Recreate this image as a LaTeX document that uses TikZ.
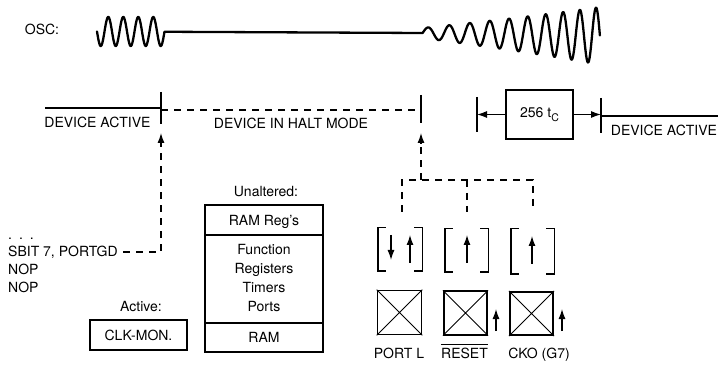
\documentclass[tikz,border=0pt]{standalone}
\usepackage{fontspec}
\setmainfont{TeX Gyre Heros}
\usetikzlibrary{arrows.meta}
\begin{document}
\begin{tikzpicture}[x=1pt,y=-1pt,
  txt/.style={font=\fontsize{14}{16}\selectfont, inner sep=0pt, text height=10pt, text depth=0pt},
  wave/.style={line width=2.3pt, line join=round, line cap=round},
  tline/.style={line width=1.2pt},
  dsh/.style={line width=1.2pt, dash pattern=on 7pt off 6pt},
  arr/.style={-{Latex[length=10pt,width=7pt]}},
  membox/.style={draw, line width=2.4pt, minimum width=118pt, inner sep=0pt},
  brbox/.style={inner sep=0pt, minimum width=44pt, minimum height=43pt},
  xbox/.style={draw, line width=1.6pt, inner sep=0pt, minimum size=44pt},
  brk/.style={line width=1.4pt},
  sarr/.style={line width=1.3pt, -{Latex[length=10pt,width=7pt]}}
]
\useasboundingbox (0,0) rectangle (718,366);

% oscillator
\node[txt] (osc) at (42,30) {OSC:};
\draw[wave] plot[domain=0:4.5, samples=200, smooth] ({97+15*\x},{31.5+14.5*sin(360*\x)})
  -- (422.6,33)
  -- plot[domain=0:9.5, samples=400, smooth] ({422.6+21.675*\x-0.3167*\x*\x},{(33+0.3*\x)-(5+2.5*\x)*sin(360*\x)});

% timeline
\coordinate (tl0) at (45,108);
\coordinate (tk1) at (161,108);
\coordinate (tk1t) at (161,92);
\coordinate (tk1b) at (161,124);
\coordinate (d1) at (161,110);
\coordinate (d2) at (421,110);
\coordinate (tk2t) at (421,95);
\coordinate (tk2b) at (421,123);
\draw[tline] (tl0) -- (tk1);
\draw[tline] (tk1t) -- (tk1b);
\draw[dsh] (d1) -- (d2);
\draw[tline] (tk2t) -- (tk2b);
\node[txt] (da1) at (97.5,123) {DEVICE ACTIVE};
\node[txt] (halt) at (291,124) {DEVICE IN HALT MODE};

\node[draw, line width=1.3pt, minimum width=67pt, minimum height=49pt, inner sep=0pt,
  font=\fontsize{14}{16}\selectfont] (tc) at (539.5,114.5) {256 t\raisebox{-0.45ex}{\fontsize{10.5}{10}\selectfont C}};
\coordinate (tkLt) at (477,97);
\coordinate (tkLb) at (477,132);
\coordinate (tkRt) at (601,98);
\coordinate (tkRb) at (601,133);
\coordinate (rl0) at (601,116);
\coordinate (rl1) at (718,116);
\draw[tline] (tkLt) -- (tkLb);
\draw[tline] (tkRt) -- (tkRb);
\draw[tline,arr] (tc.west) -- (tc.west -| tkLt);
\draw[tline,arr] (tc.east) -- (tc.east -| tkRt);
\draw[tline] (rl0) -- (rl1);
\node[txt] (da2) at (664,131) {DEVICE ACTIVE};

% code
\node[txt, anchor=west] (dots) at (8,235) {.\hspace{7pt}.\hspace{7pt}.};
\node[txt, anchor=west] (sbit) at (8,252) {SBIT 7, PORTGD};
\node[txt, anchor=west] (nop1) at (8,270) {NOP};
\node[txt, anchor=west] (nop2) at (8,288) {NOP};
\coordinate (s0) at (123,252);
\coordinate (h1) at (161,144);
\coordinate (tip1) at (161,133);
\draw[dsh] (s0) -| (h1);
\draw[tline,arr] (h1) -- (tip1);

% memory
\node[txt] (unalt) at (266,192) {Unaltered:};
\node[membox, minimum height=30pt] (regs) at (264,220) {};
\node[membox, minimum height=88pt] (func) at (264,279) {};
\node[membox, minimum height=29pt] (ram) at (264,337.5) {};
\node[txt] (t1) at (264,221) {RAM Reg's};
\node[txt] (t2) at (264,250) {Function};
\node[txt] (t3) at (264,269) {Registers};
\node[txt] (t4) at (264,288) {Timers};
\node[txt] (t5) at (264,307) {Ports};
\node[txt] (t6) at (264,337) {RAM};

\node[txt] (act) at (141,307) {Active:};
\node[draw, line width=2.4pt, minimum width=97pt, minimum height=30pt, inner sep=0pt,
  font=\fontsize{14}{16}\selectfont, text height=10pt, text depth=0pt] (clk) at (138.5,335) {CLK-MON.};

% dashed tree
\coordinate (j0) at (421,180);
\coordinate (h2) at (421,144);
\coordinate (tip2) at (421,133);
\coordinate (jl) at (402,180);
\coordinate (jm) at (467,180);
\coordinate (jr) at (533,180);
\coordinate (jlb) at (402,212);
\coordinate (jmb) at (467,212);
\coordinate (jrb) at (533,212);
\draw[dsh] (j0) -- (h2);
\draw[tline,arr] (h2) -- (tip2);
\draw[dsh] (jlb) -- (jl) -- (jr) -- (jrb);
\draw[dsh] (jm) -- (jmb);

% bracket boxes
\node[brbox] (b1) at (400,249.5) {};
\node[brbox, minimum width=43pt] (b2) at (466.5,250.5) {};
\node[brbox, minimum width=43pt, minimum height=45pt] (b3) at (532.5,251.5) {};
\foreach \b in {b1,b2,b3}{
  \draw[brk] ([xshift=8pt]\b.north west) -- (\b.north west) -- (\b.south west) -- ([xshift=8pt]\b.south west);
  \draw[brk] ([xshift=-8pt]\b.north east) -- (\b.north east) -- (\b.south east) -- ([xshift=-8pt]\b.south east);
}
\coordinate (a1t) at (391,235);
\coordinate (a1b) at (391,260);
\coordinate (a2b) at (410,263);
\coordinate (a2t) at (410,235);
\coordinate (a3b) at (467,263);
\coordinate (a3t) at (467,235);
\coordinate (a4b) at (532,264);
\coordinate (a4t) at (532,236);
\draw[sarr] (a1t) -- (a1b);
\draw[sarr] (a2b) -- (a2t);
\draw[sarr] (a3b) -- (a3t);
\draw[sarr] (a4b) -- (a4t);

% pins
\node[xbox] (x1) at (399.5,312.5) {};
\node[xbox, minimum size=43.5pt] (x2) at (465.5,313) {};
\node[xbox, minimum size=43.5pt] (x3) at (531.5,313.5) {};
\foreach \b in {x1,x2,x3}{
  \draw[line width=0.8pt] (\b.north west) -- (\b.south east) (\b.north east) -- (\b.south west);
}
\coordinate (p2b) at (496,331);
\coordinate (p2t) at (496,309);
\coordinate (p3b) at (562,331);
\coordinate (p3t) at (562,309);
\draw[sarr] (p2b) -- (p2t);
\draw[sarr] (p3b) -- (p3t);
\node[txt] (lp) at (399,353) {PORT L};
\node[txt] (lr) at (464.5,353) {RESET};
\draw[line width=0.9pt] ([yshift=3pt]lr.north west) -- ([yshift=3pt]lr.north east);
\node[txt] (lc) at (539,353) {CKO (G7)};
\end{tikzpicture}
\end{document}
